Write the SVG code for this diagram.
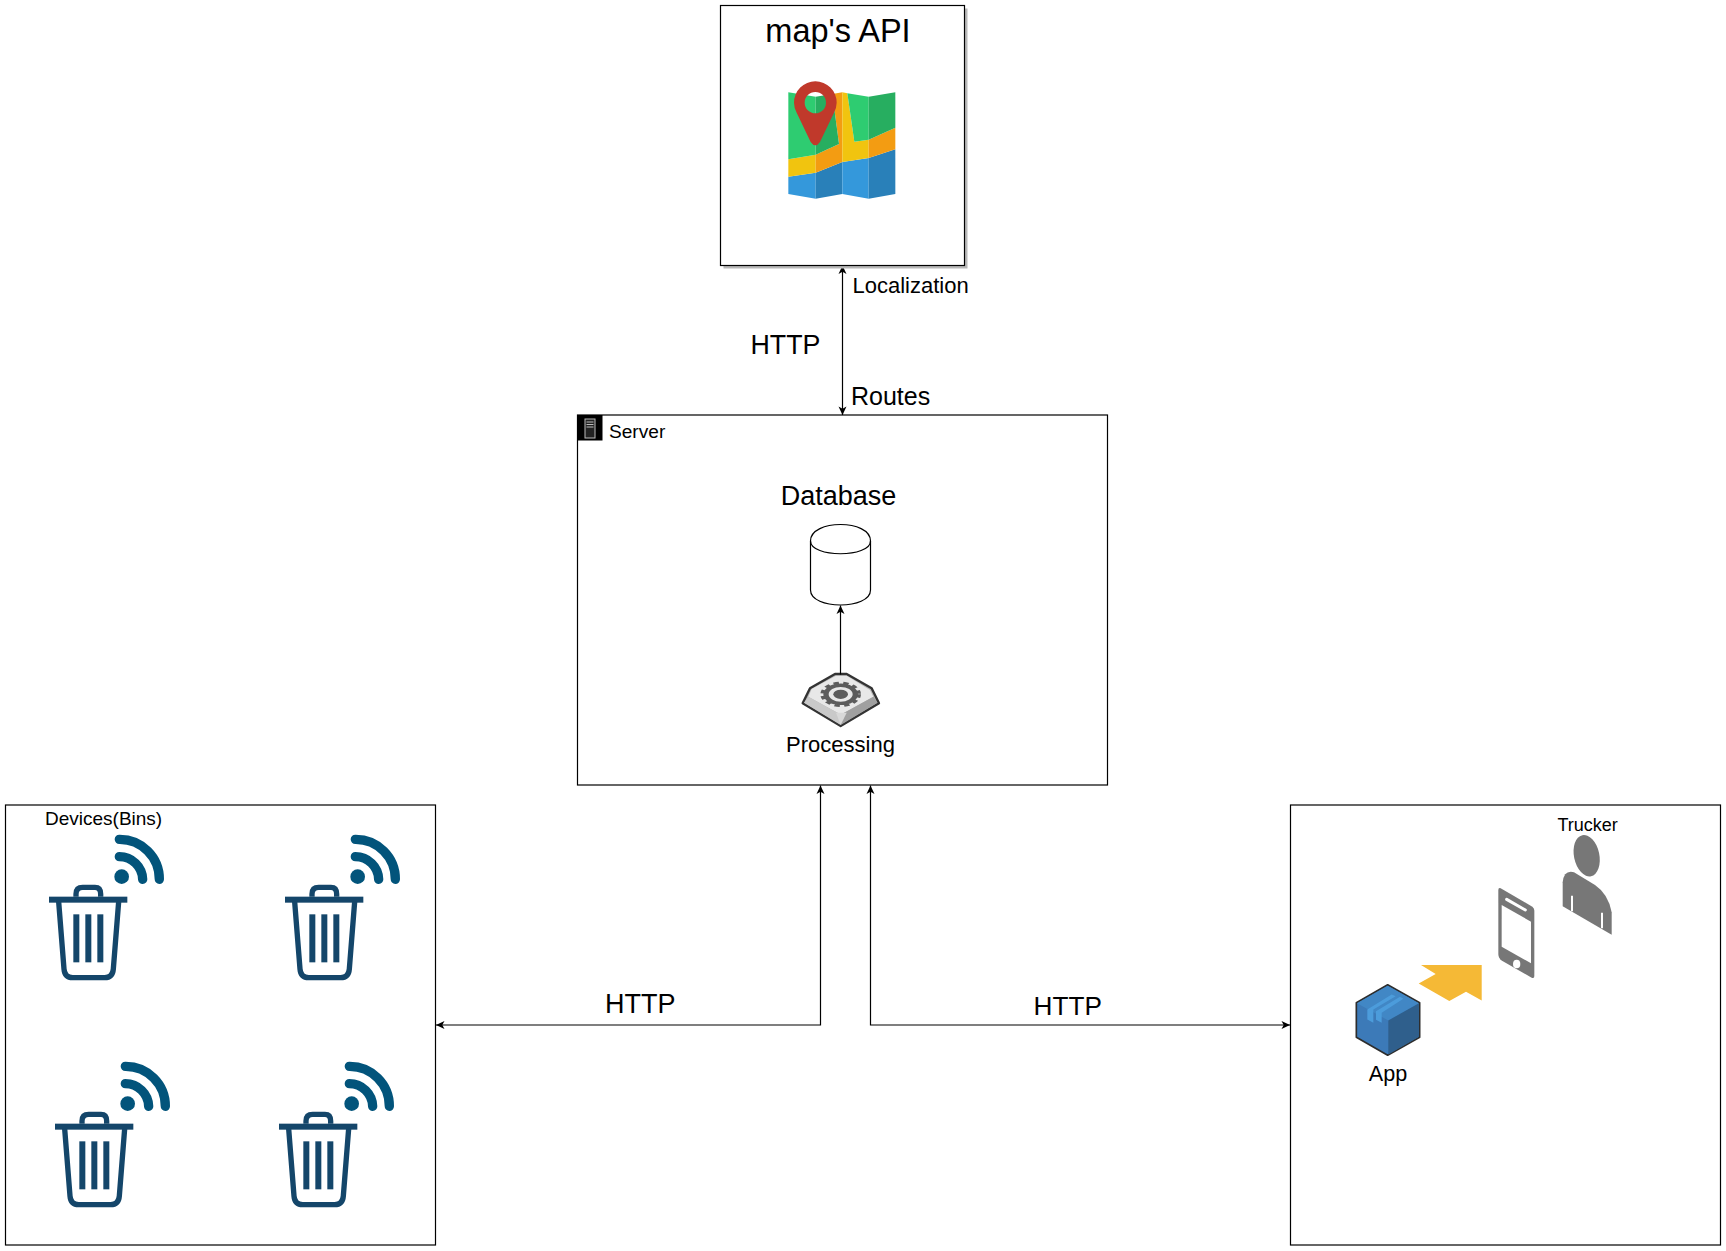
<svg xmlns="http://www.w3.org/2000/svg" width="1726" height="1251" viewBox="0 0 1726 1251">
<style>
text{font-family:"Liberation Sans",Arial,sans-serif;fill:#000}
.box{fill:#fff;stroke:#000;stroke-width:1.2}
.conn{fill:none;stroke:#000;stroke-width:1.2}
.tr{fill:#14466a}
.trl{fill:none;stroke:#14466a;stroke-width:16}
.wf{fill:none;stroke:#02547b;stroke-width:28;stroke-linecap:round}
.gy{fill:#777}
</style>
<defs>
<marker id="ah" viewBox="0 0 10 10" refX="9.5" refY="5" markerWidth="10" markerHeight="10" markerUnits="userSpaceOnUse" orient="auto-start-reverse"><path d="M1,1 L9.5,5 L1,9 L3.2,5 Z" fill="#000"/></marker>
<g id="binicon" transform="scale(.33333)">
<rect class="tr" x="27" y="215" width="235" height="18"/>
<path class="trl" d="M108,215V207Q108,187 128,187H165Q182,187 182,207V215"/>
<path class="trl" d="M56,230L72,432Q74,458 98,458H194Q218,458 220,432L236,230"/>
<rect class="tr" x="100" y="268" width="18" height="144"/>
<rect class="tr" x="136" y="268" width="18" height="144"/>
<rect class="tr" x="172" y="268" width="18" height="144"/>
<circle cx="245" cy="155" r="22" fill="#02547b"/>
<path class="wf" d="M238,43A119,119 0 0 1 358,163"/>
<path class="wf" d="M238,95A70,70 0 0 1 308,163"/>
</g>
</defs>
<g id="connectors">
<path class="conn" d="M842.5,265.5V415" marker-start="url(#ah)" marker-end="url(#ah)"/>
<path class="conn" d="M436,1025H820.5V785.5" marker-start="url(#ah)" marker-end="url(#ah)"/>
<path class="conn" d="M1290,1025H870.5V785.5" marker-start="url(#ah)" marker-end="url(#ah)"/>
</g>
<g id="map-api">
<rect x="723.5" y="8.5" width="244" height="260" fill="#b8b8b8"/>
<rect class="box" x="720.5" y="5.5" width="244" height="260"/>
<text x="838" y="42" font-size="32.5" text-anchor="middle">map's API</text>
<g transform="translate(770,70) scale(.33333)">
<path fill="#3498db" d="M55,320L137,308V386L55,372Z"/>
<path fill="#2980b9" d="M137,308L217,276V372L137,386Z"/>
<path fill="#3498db" d="M217,276L296,264V386L217,372Z"/>
<path fill="#2980b9" d="M296,264L376,238V372L296,386Z"/>
<path fill="#f1c40f" d="M55,268L137,254V308L55,320Z"/>
<path fill="#f39c12" d="M137,254L207,222L187,72L217,67V276L137,308Z"/>
<path fill="#f1c40f" d="M217,67L232,70L253,215L296,209V264L217,276Z"/>
<path fill="#f39c12" d="M296,209L376,173V238L296,264Z"/>
<path fill="#2ecc71" d="M55,67L137,80V254L55,268Z"/>
<path fill="#27ae60" d="M137,80L187,72L207,222L137,254Z"/>
<path fill="#2ecc71" d="M232,70L296,80V209L253,215Z"/>
<path fill="#27ae60" d="M296,80L376,67V173L296,209Z"/>
<path fill="#c0392b" fill-rule="evenodd" d="M72,98A64,64 0 0 1 200,98Q200,112 192,128L150,216Q136,236 122,216L80,128Q72,112 72,98ZM104,98A32,32 0 0 0 168,98A32,32 0 0 0 104,98Z"/>
</g>
</g>
<g id="server">
<rect class="box" x="577.5" y="415" width="530" height="370"/>
<rect x="577" y="415" width="25.5" height="25.5" fill="#000"/>
<rect x="585" y="419" width="10" height="19" fill="#222" stroke="#bbb" stroke-width="1"/>
<path d="M586.5,422H593.5M586.5,424.5H593.5M586.5,427H593.5" stroke="#bbb" stroke-width="1" fill="none"/>
<text x="609" y="438" font-size="19.1">Server</text>
</g>
<g id="database">
<text x="838.5" y="505" font-size="27" text-anchor="middle">Database</text>
<path d="M810.5,541C810.5,519 870.5,519 870.5,541V590C870.5,610 810.5,610 810.5,590Z" fill="#fff" stroke="#000" stroke-width="1.2"/>
<path d="M810.5,541C810.5,558 870.5,558 870.5,541" fill="none" stroke="#000" stroke-width="1.2"/>
</g>
<g id="processing">
<g transform="translate(790,660) scale(.33333)">
<path d="M135,42H170L245,85L267,130L152,198L38,130L60,85Z" fill="#b5b5b5" stroke="#333" stroke-width="7" stroke-linejoin="round"/>
<path d="M138,47H170L240,90L250,110L160,160H145L55,110L65,87Z" fill="#e8e8e8"/>
<path d="M55,110L145,160L152,195L42,128Z" fill="#c9c9c9"/>
<path d="M250,110L160,160L152,195L262,128Z" fill="#a0a0a0"/>
<path d="M138,158H170L152,195Z" fill="#d8d8d8"/>
<g transform="translate(152,103) scale(1,.62)">
<circle r="55" fill="none" stroke="#5c5c5c" stroke-width="12" stroke-dasharray="16 13.5"/>
<circle r="44" fill="none" stroke="#5c5c5c" stroke-width="16"/>
<circle r="22" fill="#5c5c5c"/>
</g>
</g>
<text x="840.5" y="751.5" font-size="22" text-anchor="middle">Processing</text>
</g>
<path id="db-link" class="conn" d="M840.5,674.5V605.5" marker-end="url(#ah)"/>
<g id="devices">
<rect class="box" x="5.5" y="805" width="430" height="440"/>
<text x="45" y="825" font-size="19">Devices(Bins)</text>
</g>
<g id="bin-1"><use href="#binicon" transform="translate(40,825)"/></g>
<g id="bin-2"><use href="#binicon" transform="translate(276,825)"/></g>
<g id="bin-3"><use href="#binicon" transform="translate(46,1052)"/></g>
<g id="bin-4"><use href="#binicon" transform="translate(270,1052)"/></g>
<g id="trucker-box">
<rect class="box" x="1290.5" y="805" width="430" height="440"/>
</g>
<g id="app">
<g transform="translate(1340,959.5) scale(.33333)">
<path d="M143,76L239,130V233L143,287L49,233V130Z" fill="#3c7ab8" stroke="#2d2d2d" stroke-width="5" stroke-linejoin="round"/>
<path d="M143,79L237,131L145,183L51,131Z" fill="#4187c5"/>
<path d="M145,183L237,131V232L145,285Z" fill="#2f5f8c"/>
<path d="M82,150L155,105L167,110L100,150V190L82,180Z" fill="#4c9cdb"/>
<path d="M108,155L180,112L190,118L125,160V190L108,181Z" fill="#4c9cdb"/>
</g>
<text x="1388" y="1081" font-size="21.6" text-anchor="middle">App</text>
</g>
<path id="app-arrow" fill="#f5b936" d="M1421,965H1481.7V1000.4L1466,991.7L1449.3,1001L1418.7,983.4L1435.7,974Z"/>
<g id="phone">
<g transform="translate(1480,820) scale(.33333)">
<path class="gy" d="M62,205L157,260Q163,264 163,272V468Q163,477 155,473L66,422Q55,415 55,402V210Q55,202 62,205Z"/>
<path d="M65,255L153,305V430L65,380Z" fill="#fff"/>
<path d="M80,238L136,270" stroke="#fff" stroke-width="9" stroke-linecap="round" fill="none"/>
<ellipse cx="110" cy="432" rx="11" ry="13" fill="#fff"/>
</g>
</g>
<g id="trucker">
<g transform="translate(1480,819) scale(.33333)">
<ellipse cx="320" cy="110" rx="38" ry="63" transform="rotate(-12 320 110)" class="gy"/>
<path class="gy" d="M248,262V190Q252,152 282,160L345,198Q385,225 395,280V347Z"/>
<path d="M276,230V277M366,281V328" stroke="#fff" stroke-width="6" fill="none"/>
</g>
<text x="1557.5" y="831" font-size="18">Trucker</text>
</g>
<g id="labels">
<text x="852.5" y="293" font-size="22">Localization</text>
<text x="750.5" y="354" font-size="26.8">HTTP</text>
<text x="851" y="404.5" font-size="25">Routes</text>
<text x="605" y="1012.5" font-size="27">HTTP</text>
<text x="1033.5" y="1014.5" font-size="26.2">HTTP</text>
</g>
</svg>
